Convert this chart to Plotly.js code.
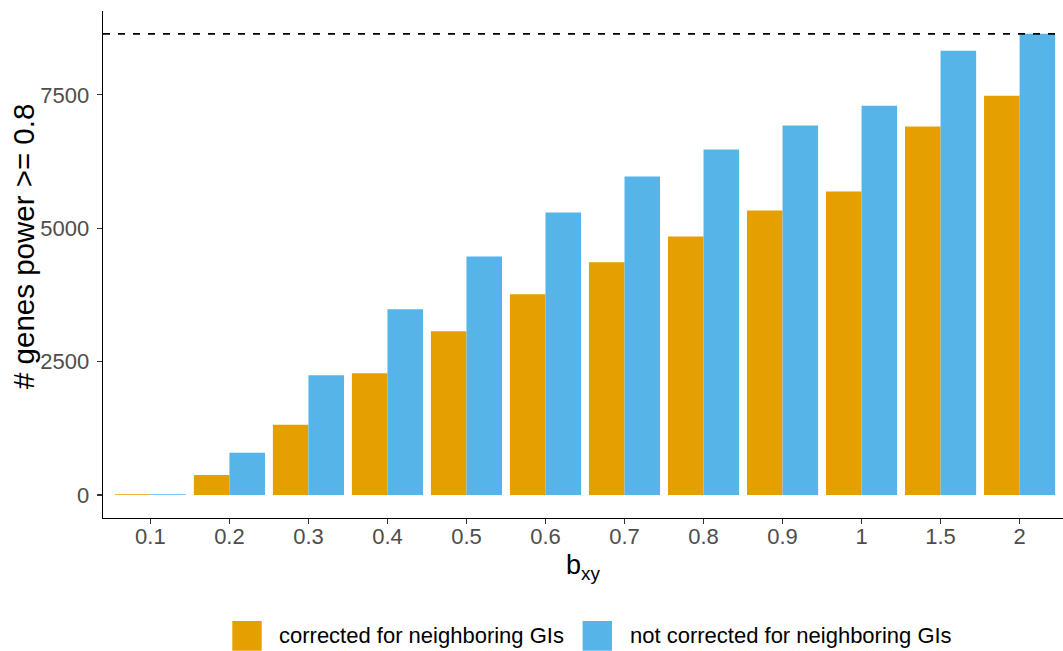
<!DOCTYPE html>
<html>
<head>
<meta charset="utf-8">
<script src="https://cdn.plot.ly/plotly-3.0.1.min.js"></script>
<style>
  html, body { margin: 0; padding: 0; background: #ffffff; }
  #chart { width: 1063px; height: 651px; }
</style>
</head>
<body>
<div id="chart"></div>
<script>
// Effect sizes on the x axis
const effectSizes = ['0.1', '0.2', '0.3', '0.4', '0.5', '0.6', '0.7', '0.8', '0.9', '1', '1.5', '2'];

// Number of genes reaching power >= 0.8
const correctedCounts    = [15, 374, 1316, 2283, 3069, 3761, 4360, 4847, 5333, 5689, 6905, 7485];
const notCorrectedCounts = [15, 792, 2246, 3481, 4472, 5296, 5969, 6475, 6924, 7298, 8327, 8645];

// Total number of genes (reference line)
const totalGenes = 8645;

const seriesNames  = ['corrected for neighboring GIs', 'not corrected for neighboring GIs'];
const seriesColors = ['#E69F00', '#56B4E9'];

const yTickValues = [0, 2500, 5000, 7500];
const yTitle = '# genes power >= 0.8';
const xTitle = 'b<sub>xy</sub>';

const W = 1063, H = 651;
const M = { l: 103, r: 0, t: 11, b: 133 };
const plotW = W - M.l - M.r;
const plotH = H - M.t - M.b;
const px2x = px => (px - M.l) / plotW;
const px2y = py => (H - M.b - py) / plotH;

const font = 'Liberation Sans, Arial, Helvetica, sans-serif';

const traces = [correctedCounts, notCorrectedCounts].map((vals, i) => ({
  type: 'bar',
  name: seriesNames[i],
  x: effectSizes,
  y: vals,
  marker: { color: seriesColors[i], line: { width: 0 } },
  hoverinfo: 'x+y+name'
}));

// Legend drawn below the plot with large square keys
const legendKeys = [
  { x0: 232.3, x1: 261.7, tx: 277.3 },
  { x0: 582.6, x1: 612.0, tx: 627.6 }
];
const keyTop = 621, keyBottom = 650.7;

const shapes = [{
  type: 'line', xref: 'paper', x0: 0, x1: 1, yref: 'y', y0: totalGenes, y1: totalGenes,
  line: { color: '#000000', width: 1.8, dash: '7px,8px' }
}];
const annotations = [];
legendKeys.forEach((k, i) => {
  shapes.push({
    type: 'rect', xref: 'paper', yref: 'paper',
    x0: px2x(k.x0), x1: px2x(k.x1), y0: px2y(keyBottom), y1: px2y(keyTop),
    fillcolor: seriesColors[i], line: { width: 0 }
  });
  annotations.push({
    xref: 'paper', yref: 'paper', x: px2x(k.tx), y: px2y((keyTop + keyBottom) / 2),
    xanchor: 'left', yanchor: 'middle', showarrow: false,
    text: seriesNames[i], font: { family: font, size: 22, color: '#000000' }
  });
});

// Vertical axis title
annotations.push({
  xref: 'paper', yref: 'paper', x: px2x(23), y: px2y(247),
  xanchor: 'center', yanchor: 'middle', showarrow: false, textangle: -90,
  text: yTitle, font: { family: font, size: 29.5, color: '#000000' }
});

const axisCommon = {
  showline: true, linecolor: '#000000', linewidth: 1.3,
  ticks: 'outside', ticklen: 5, tickwidth: 1.2, tickcolor: '#333333',
  tickfont: { family: font, size: 22, color: '#4d4d4d' },
  showgrid: false, zeroline: false
};

const layout = {
  width: W, height: H,
  margin: M,
  paper_bgcolor: '#ffffff', plot_bgcolor: '#ffffff',
  font: { family: font },
  barmode: 'group', bargap: 0.1, bargroupgap: 0,
  showlegend: false,
  xaxis: Object.assign({}, axisCommon, {
    type: 'category',
    range: [-0.6, -0.6 + 12.2 * (plotW / 964)],
    ticklabelstandoff: -7,
    title: { text: xTitle, font: { family: font, size: 27, color: '#000000' }, standoff: 7 }
  }),
  yaxis: Object.assign({}, axisCommon, {
    range: [-432, 9072],
    tickmode: 'array', tickvals: yTickValues, ticktext: yTickValues.map(String),
    ticklabelstandoff: 3
  }),
  shapes: shapes,
  annotations: annotations
};

Plotly.newPlot('chart', traces, layout, { displayModeBar: false, staticPlot: true });
</script>
</body>
</html>
